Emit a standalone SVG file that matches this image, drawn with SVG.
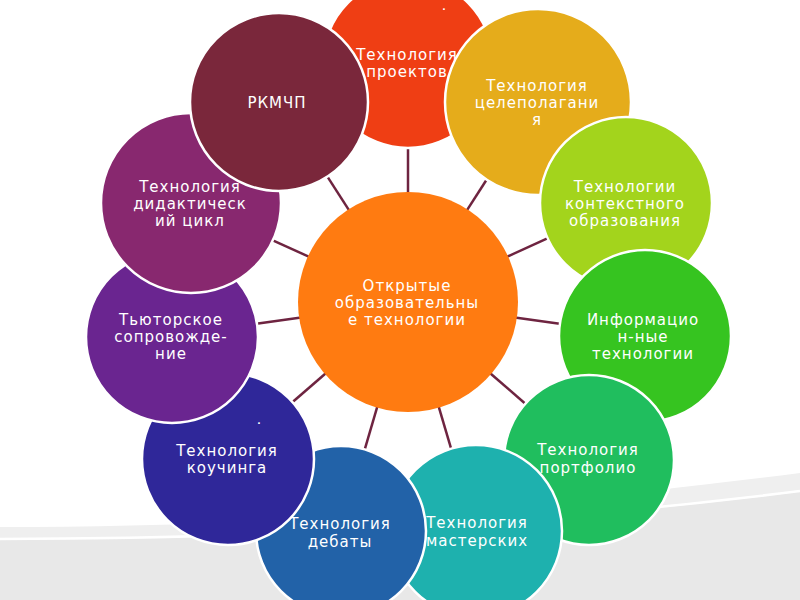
<svg xmlns="http://www.w3.org/2000/svg" width="800" height="600" viewBox="0 0 800 600">
<style>
.c{stroke:#ffffff;stroke-width:2.5}
.t{font-family:"DejaVu Sans","Liberation Sans",sans-serif;font-size:15px;fill:#ffffff;text-anchor:middle;letter-spacing:1px}
.d{font-family:"DejaVu Sans","Liberation Sans",sans-serif;font-size:9px;font-weight:bold;fill:#ffffff;text-anchor:middle}
.ln{stroke:#6E2440;stroke-width:2.5;fill:none}
</style>
<rect x="0" y="0" width="800" height="600" fill="#ffffff"/>
<g id="background">
<path d="M0,527 C300,527 550,505 800,473 L800,600 L0,600 Z" fill="#efefef"/>
<path d="M0,540 C300,540 560,522 800,492 L800,600 L0,600 Z" fill="#e8e8e8"/>
<path d="M0,539 C300,539 560,521 800,491" stroke="#ffffff" stroke-width="2.5" fill="none"/>
</g>
<g id="connectors">
<line class="ln" x1="408" y1="194" x2="408" y2="146"/>
<line class="ln" x1="466.4" y1="211.1" x2="488" y2="177.5"/>
<line class="ln" x1="506.2" y1="257.1" x2="549" y2="237.6"/>
<line class="ln" x1="514.9" y1="317.4" x2="561.4" y2="324.1"/>
<line class="ln" x1="489.6" y1="372.7" x2="525.9" y2="404.2"/>
<line class="ln" x1="438.4" y1="405.6" x2="451.7" y2="450.7"/>
<line class="ln" x1="377.6" y1="405.6" x2="364.1" y2="451.7"/>
<line class="ln" x1="326.4" y1="372.7" x2="290.9" y2="403.5"/>
<line class="ln" x1="301.1" y1="317.4" x2="254.6" y2="324.1"/>
<line class="ln" x1="309.8" y1="257.1" x2="270.6" y2="239.3"/>
<line class="ln" x1="349.6" y1="211.1" x2="325.8" y2="174.1"/>
</g>
<g id="center">
<circle cx="408" cy="302" r="110" fill="#FF7B11"/>
<text class="t" x="407" y="291">Открытые</text>
<text class="t" x="407" y="308">образовательны</text>
<text class="t" x="407" y="325">е технологии</text>
</g>
<g id="n-proektov">
<circle class="c" cx="408" cy="63" r="85" fill="#EF3E14"/>
<text class="t" x="407" y="60">Технология</text>
<text class="t" x="407" y="77">проектов</text>
<text class="d" x="444" y="9.5">.</text>
</g>
<g id="n-celepolaganiya">
<circle class="c" cx="538" cy="102" r="93" fill="#E5AC1B"/>
<text class="t" x="537" y="91">Технология</text>
<text class="t" x="537" y="108">целеполагани</text>
<text class="t" x="537" y="125">я</text>
</g>
<g id="n-kontekst">
<circle class="c" cx="626" cy="203" r="86" fill="#A3D41C"/>
<text class="t" x="625" y="192">Технологии</text>
<text class="t" x="625" y="209">контекстного</text>
<text class="t" x="625" y="226">образования</text>
</g>
<g id="n-inform">
<circle class="c" cx="645" cy="336" r="86" fill="#36C420"/>
<text class="t" x="643" y="325">Информацио</text>
<text class="t" x="643" y="342">н-ные</text>
<text class="t" x="643" y="359">технологии</text>
</g>
<g id="n-portfolio">
<circle class="c" cx="589" cy="460" r="85" fill="#20BE5E"/>
<text class="t" x="588" y="455">Технология</text>
<text class="t" x="588" y="473">портфолио</text>
</g>
<g id="n-masterskih">
<circle class="c" cx="476" cy="531" r="86" fill="#1EB1AE"/>
<text class="t" x="477" y="528">Технология</text>
<text class="t" x="477" y="546">мастерских</text>
</g>
<g id="n-debaty">
<circle class="c" cx="341" cy="531" r="85" fill="#2262A8"/>
<text class="t" x="340" y="529">Технология</text>
<text class="t" x="340" y="547">дебаты</text>
</g>
<g id="n-kouchinga">
<circle class="c" cx="228" cy="459" r="86" fill="#2F2799"/>
<text class="t" x="227" y="456">Технология</text>
<text class="t" x="227" y="473">коучинга</text>
<text class="d" x="259" y="424">.</text>
</g>
<g id="n-tyutor">
<circle class="c" cx="172" cy="337" r="86" fill="#6A2590"/>
<text class="t" x="171" y="325">Тьюторское</text>
<text class="t" x="171" y="342">сопровожде-</text>
<text class="t" x="171" y="359">ние</text>
</g>
<g id="n-didakt">
<circle class="c" cx="191" cy="203" r="90" fill="#88286F"/>
<text class="t" x="190" y="192">Технология</text>
<text class="t" x="190" y="209">дидактическ</text>
<text class="t" x="190" y="226">ий цикл</text>
</g>
<g id="n-rkmchp">
<circle class="c" cx="279" cy="102" r="89" fill="#7A273B"/>
<text class="t" x="277" y="108">РКМЧП</text>
</g>
</svg>
